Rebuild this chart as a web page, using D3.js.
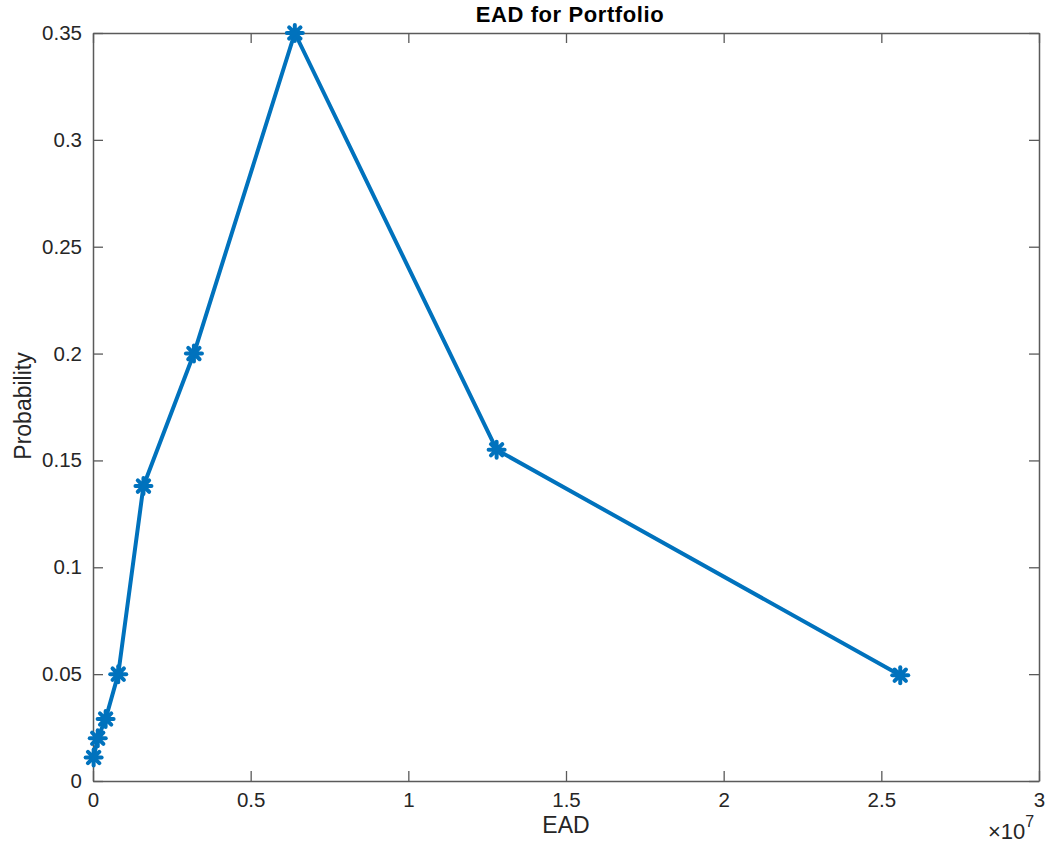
<!DOCTYPE html>
<html><head><meta charset="utf-8">
<script src="https://cdn.jsdelivr.net/npm/d3@7"></script>
<style>body{margin:0;background:#fff}</style>
</head><body>
<svg id="c" width="1048" height="846"></svg>
<script>
const ead = [2e4, 1.5e5, 4e5, 8e5, 1.6e6, 3.2e6, 6.4e6, 1.28e7, 2.56e7];
const prob = [0.011, 0.02, 0.029, 0.05, 0.138, 0.2, 0.35, 0.155, 0.0495];
const xTicks = [0, 0.5e7, 1e7, 1.5e7, 2e7, 2.5e7, 3e7];
const xTickLabels = ["0", "0.5", "1", "1.5", "2", "2.5", "3"];
const yTicks = [0, 0.05, 0.1, 0.15, 0.2, 0.25, 0.3, 0.35];
const yTickLabels = ["0", "0.05", "0.1", "0.15", "0.2", "0.25", "0.3", "0.35"];

const L = 93, R = 1039, T = 33, B = 781;
const svg = d3.select("#c");
const font = "'Liberation Sans', Arial, Helvetica, sans-serif";
const x = d3.scaleLinear().domain([0, 3e7]).range([L, R]);
const y = d3.scaleLinear().domain([0, 0.35]).range([B, T]);
const axCol = "#5a5a5a", txtCol = "#262626", tl = 10;

const g = svg.append("g");
const xb = g.append("g").attr("transform", `translate(0,${B})`)
  .call(d3.axisBottom(x).tickValues(xTicks).tickFormat((d,i)=>xTickLabels[i]).tickSizeInner(-tl).tickSizeOuter(0).tickPadding(11));
const xt = g.append("g").attr("transform", `translate(0,${T})`)
  .call(d3.axisTop(x).tickValues(xTicks).tickFormat("").tickSizeInner(-tl).tickSizeOuter(0));
const yl = g.append("g").attr("transform", `translate(${L},0)`)
  .call(d3.axisLeft(y).tickValues(yTicks).tickFormat((d,i)=>yTickLabels[i]).tickSizeInner(-tl).tickSizeOuter(0).tickPadding(11));
const yr = g.append("g").attr("transform", `translate(${R},0)`)
  .call(d3.axisRight(y).tickValues(yTicks).tickFormat("").tickSizeInner(-tl).tickSizeOuter(0));
[xb, xt, yl, yr].forEach(a => {
  a.selectAll("path.domain").attr("stroke", axCol).attr("stroke-width", 1.5);
  a.selectAll(".tick line").attr("stroke", axCol).attr("stroke-width", 1.3);
  a.selectAll(".tick text").attr("fill", txtCol).style("font-family", font).style("font-size", "20.5px");
});

const line = d3.line().x((d,i)=>x(ead[i])).y(d=>y(d));
g.append("path").datum(prob).attr("d", line).attr("fill", "none")
  .attr("stroke", "#0072BD").attr("stroke-width", 4).attr("stroke-linejoin", "round");

const r = 8;
const mk = g.selectAll("g.mk").data(prob).join("g")
  .attr("transform", (d,i)=>`translate(${x(ead[i])},${y(d)})`);
mk.append("circle").attr("r", 5).attr("fill", "#0072BD");
[[-r,0,r,0],[0,-r,0,r],[-r*0.71,-r*0.71,r*0.71,r*0.71],[-r*0.71,r*0.71,r*0.71,-r*0.71]].forEach(s => {
  mk.append("line").attr("x1", s[0]).attr("y1", s[1]).attr("x2", s[2]).attr("y2", s[3])
    .attr("stroke", "#0072BD").attr("stroke-width", 4).attr("stroke-linecap", "round");
});

svg.append("text").attr("x", 570).attr("y", 22).attr("text-anchor", "middle")
  .style("font-family", font).style("font-size", "22px").style("font-weight", "bold").attr("fill", "#000")
  .style("letter-spacing", "0.6px")
  .text("EAD for Portfolio");
svg.append("text").attr("x", 566).attr("y", 833).attr("text-anchor", "middle")
  .style("font-family", font).style("font-size", "23px").attr("fill", txtCol).text("EAD");
svg.append("text").attr("transform", `translate(31,406) rotate(-90)`).attr("text-anchor", "middle")
  .style("font-family", font).style("font-size", "23px").attr("fill", txtCol).text("Probability");
const ex = svg.append("text").attr("x", 988).attr("y", 839).attr("text-anchor", "start")
  .style("font-family", font).style("font-size", "22px").attr("fill", txtCol);
ex.append("tspan").text("×10");
ex.append("tspan").attr("dy", -12).style("font-size", "16px").text("7");
</script>
</body></html>
